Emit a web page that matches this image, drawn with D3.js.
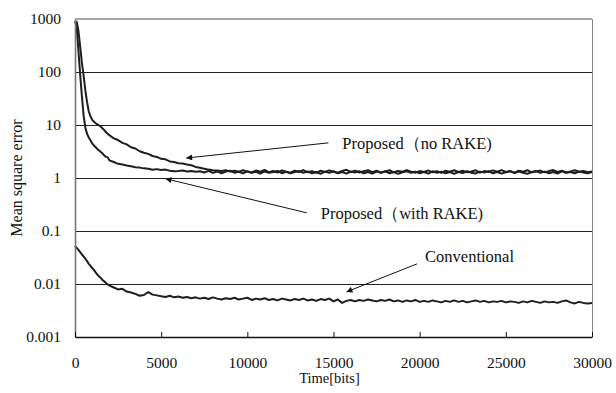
<!DOCTYPE html>
<html>
<head>
<meta charset="utf-8">
<script src="https://cdn.jsdelivr.net/npm/d3@7/dist/d3.min.js"></script>
<style>
  body { margin: 0; background: #fff; }
  svg text { font-family: "Times New Roman", Times, "Liberation Serif", "DejaVu Serif", serif; fill: #111; }
</style>
</head>
<body>
<script>
// sample times (bits): every 100 up to 2000, then every 250
const timeBits = d3.range(0, 2001, 100).concat(d3.range(2250, 30001, 250));

// Proposed (no RAKE)
const mseNoRake = [
  900, 880, 600, 300, 150, 85, 45, 27, 18, 14.5, 12.5, 11.5, 10.8, 10.3, 9.8, 9.3, 8.6, 8.0, 7.3, 6.8, 6.4,
  5.6, 5.2, 4.6, 4.3, 3.8, 3.6, 3.2, 3.0, 2.85, 2.6,
  2.5, 2.3, 2.25, 2.05, 2.0, 1.9, 1.88, 1.8, 1.74, 1.62,
  1.56, 1.5, 1.44, 1.4, 1.38, 1.36, 1.4, 1.33, 1.37, 1.32,
  1.4, 1.32, 1.27, 1.38, 1.31, 1.42, 1.29, 1.36, 1.27, 1.39,
  1.32, 1.26, 1.38, 1.3, 1.41, 1.28, 1.35, 1.25, 1.37, 1.3,
  1.39, 1.31, 1.26, 1.36, 1.43, 1.3, 1.38, 1.27, 1.34, 1.41,
  1.29, 1.37, 1.26, 1.33, 1.4, 1.28, 1.36, 1.31, 1.41, 1.32,
  1.26, 1.35, 1.3, 1.39, 1.28, 1.35, 1.25, 1.37, 1.31, 1.4,
  1.3, 1.37, 1.28, 1.33, 1.4, 1.26, 1.35, 1.3, 1.39, 1.31,
  1.41, 1.3, 1.35, 1.26, 1.37, 1.31, 1.4, 1.28, 1.33, 1.38,
  1.28, 1.35, 1.41, 1.3, 1.37, 1.27, 1.33, 1.4, 1.31, 1.36,
  1.29, 1.33
];

// Proposed (with RAKE)
const mseRake = [
  900, 700, 250, 90, 35, 15, 9, 6.8, 5.8, 5.1, 4.5, 4.1, 3.8, 3.5, 3.3, 3.1, 2.9, 2.65, 2.5, 2.45, 2.15,
  2.0, 1.85, 1.8, 1.72, 1.66, 1.6, 1.57, 1.52, 1.5, 1.43,
  1.47, 1.41, 1.44, 1.37, 1.34, 1.36, 1.39, 1.33, 1.36, 1.31,
  1.34, 1.27, 1.36, 1.25, 1.33, 1.23, 1.32, 1.37, 1.26, 1.31,
  1.22, 1.34, 1.26, 1.31, 1.21, 1.33, 1.25, 1.3, 1.36, 1.23,
  1.31, 1.22, 1.3, 1.35, 1.25, 1.33, 1.23, 1.3, 1.2, 1.32,
  1.25, 1.34, 1.23, 1.3, 1.21, 1.32, 1.27, 1.35, 1.23, 1.3,
  1.21, 1.32, 1.26, 1.34, 1.23, 1.3, 1.2, 1.28, 1.34, 1.25,
  1.32, 1.23, 1.3, 1.21, 1.34, 1.26, 1.32, 1.23, 1.29, 1.2,
  1.3, 1.24, 1.34, 1.26, 1.22, 1.32, 1.27, 1.35, 1.23, 1.3,
  1.21, 1.28, 1.34, 1.24, 1.32, 1.26, 1.2, 1.3, 1.35, 1.25,
  1.32, 1.23, 1.3, 1.21, 1.34, 1.26, 1.3, 1.23, 1.32, 1.27,
  1.23, 1.3
];

// Conventional
const mseConventional = [
  0.052, 0.048, 0.044, 0.040, 0.036, 0.033, 0.030, 0.027, 0.024, 0.022, 0.020,
  0.0185, 0.0165, 0.015, 0.0138, 0.013, 0.0118, 0.0112, 0.0105, 0.0098, 0.0093,
  0.0086, 0.0079, 0.0081, 0.0072, 0.0069, 0.0065, 0.0060, 0.0062, 0.0070, 0.0063,
  0.0061, 0.0059, 0.0057, 0.0060, 0.0056, 0.0058, 0.0055, 0.0057, 0.0054, 0.0056,
  0.0053, 0.0055, 0.0052, 0.0056, 0.0053, 0.0051, 0.0054, 0.0052, 0.0055, 0.0051,
  0.0053, 0.0055, 0.0050, 0.0053, 0.0051, 0.0054, 0.0050, 0.0052, 0.0049, 0.0053,
  0.0051, 0.0049, 0.0052, 0.0050, 0.0053, 0.0049, 0.0051, 0.0048, 0.0052, 0.0050,
  0.0053, 0.0047, 0.0051, 0.0044, 0.0048, 0.0050, 0.0047, 0.0050, 0.0048, 0.0051,
  0.0049, 0.0047, 0.0050, 0.0048, 0.0051, 0.0047, 0.0049, 0.0046, 0.0049, 0.0047,
  0.0050, 0.0046, 0.0048, 0.0046, 0.0049, 0.0047, 0.0045, 0.0048, 0.0046, 0.0049,
  0.0046, 0.0048, 0.0045, 0.0047, 0.0049, 0.0046, 0.0048, 0.0045, 0.0047, 0.0046,
  0.0048, 0.0045, 0.0047, 0.0046, 0.0044, 0.0047, 0.0045, 0.0048, 0.0046, 0.0044,
  0.0047, 0.0045, 0.0046, 0.0044, 0.0047, 0.0049, 0.0045, 0.0043, 0.0046, 0.0044,
  0.0043, 0.0044
];

const yTicks = [0.001, 0.01, 0.1, 1, 10, 100, 1000];
const yTickLabels = ["0.001", "0.01", "0.1", "1", "10", "100", "1000"];
const xTicks = [0, 5000, 10000, 15000, 20000, 25000, 30000];

// annotation labels; arrow ends are given in data units [time, mse]
const noteLabels = ["Proposed\uFF08no RAKE)", "Proposed\uFF08with RAKE)", "Conventional"];
const noteTails = [[14700, 4.6], [13450, 0.22], [19850, 0.024]];
const noteHeads = [[6450, 2.38], [5250, 0.97], [15750, 0.0071]];

const serif = '"Times New Roman", Times, "Liberation Serif", "DejaVu Serif", serif';
const width = 616, height = 393;
const margin = { top: 19, right: 24, bottom: 56, left: 75 };

const svg = d3.select('body').append('svg')
  .attr('width', width)
  .attr('height', height)
  .attr('font-family', serif);

const x = d3.scaleLinear().domain([0, 30000]).range([margin.left, width - margin.right]);
const y = d3.scaleLog().domain([0.001, 1000]).range([height - margin.bottom, margin.top]);

// arrowhead
svg.append('defs').append('marker')
  .attr('id', 'arrow')
  .attr('viewBox', '0 0 10 10')
  .attr('refX', 10).attr('refY', 5)
  .attr('markerWidth', 9).attr('markerHeight', 6)
  .attr('markerUnits', 'userSpaceOnUse')
  .attr('orient', 'auto')
  .append('path')
  .attr('d', 'M0,0 L10,5 L0,10 Z')
  .attr('fill', '#111');

// horizontal gridlines
svg.append('g')
  .selectAll('line')
  .data(yTicks.slice(1, -1))
  .enter().append('line')
  .attr('x1', x(0)).attr('x2', x(30000))
  .attr('y1', d => Math.round(y(d)) + 0.5)
  .attr('y2', d => Math.round(y(d)) + 0.5)
  .attr('stroke', '#222')
  .attr('stroke-width', 1);

// curves
const line = d3.line()
  .x((d, i) => x(timeBits[i]))
  .y(d => y(d));

[mseNoRake, mseRake, mseConventional].forEach(series => {
  svg.append('path')
    .datum(series)
    .attr('d', line)
    .attr('fill', 'none')
    .attr('stroke', '#1e1e1e')
    .attr('stroke-width', 2)
    .attr('stroke-linejoin', 'round');
});

// frame: top and right in gray
svg.append('line')
  .attr('x1', x(0)).attr('x2', x(30000))
  .attr('y1', y(1000)).attr('y2', y(1000))
  .attr('stroke', '#888').attr('stroke-width', 1.6);
svg.append('line')
  .attr('x1', x(30000) + 0.5).attr('x2', x(30000) + 0.5)
  .attr('y1', y(1000)).attr('y2', y(0.001))
  .attr('stroke', '#888').attr('stroke-width', 1);

// y axis
const yAxis = svg.append('g')
  .attr('transform', `translate(${x(0)},0)`)
  .call(d3.axisLeft(y).tickValues(yTicks).tickSize(0).tickPadding(14)
    .tickFormat((d, i) => yTickLabels[i]));
yAxis.attr('font-family', serif);
yAxis.select('.domain').attr('stroke', '#777').attr('stroke-width', 1.6);
yAxis.selectAll('text')
  .attr('font-size', 15.5)
  .attr('fill', '#111');

// x axis, ticks pointing up into the plot
const xAxis = svg.append('g')
  .attr('transform', `translate(0,${y(0.001)})`)
  .call(d3.axisBottom(x).tickValues(xTicks).tickSizeInner(-5).tickSizeOuter(0).tickPadding(20)
    .tickFormat(d3.format('d')));
xAxis.attr('font-family', serif);
xAxis.select('.domain').attr('stroke', '#111').attr('stroke-width', 1.5);
xAxis.selectAll('.tick line').attr('stroke', '#111');
xAxis.selectAll('text')
  .attr('font-size', 15.5)
  .attr('fill', '#111');

// axis titles
svg.append('text')
  .attr('x', (x(0) + x(30000)) / 2 - 4)
  .attr('y', 383)
  .attr('text-anchor', 'middle')
  .attr('font-size', 14.5)
  .text('Time[bits]');

svg.append('text')
  .attr('transform', `translate(22,${(y(1000) + y(0.001)) / 2}) rotate(-90)`)
  .attr('text-anchor', 'middle')
  .attr('font-size', 16)
  .text('Mean square error');

// annotations
noteLabels.forEach((label, i) => {
  const [tx, ty] = [x(noteTails[i][0]), y(noteTails[i][1])];
  const [hx, hy] = [x(noteHeads[i][0]), y(noteHeads[i][1])];
  svg.append('line')
    .attr('x1', tx).attr('y1', ty)
    .attr('x2', hx).attr('y2', hy)
    .attr('stroke', '#111')
    .attr('stroke-width', 1)
    .attr('marker-end', 'url(#arrow)');
  svg.append('text')
    .attr('x', i === 2 ? tx + 8 : tx + 14)
    .attr('y', i === 2 ? ty - 2 : ty + 6)
    .attr('font-size', 16.5)
    .text(label);
});
</script>
</body>
</html>
